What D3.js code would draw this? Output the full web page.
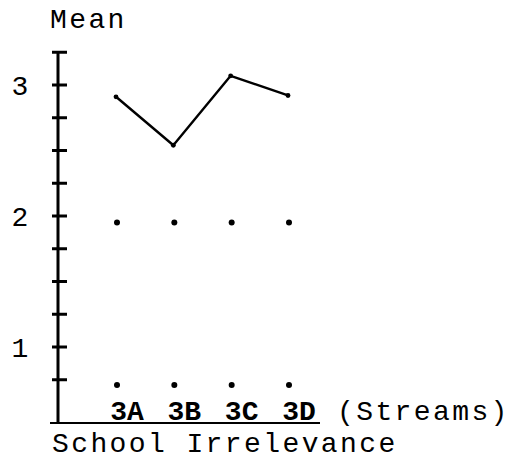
<!DOCTYPE html>
<meta charset="utf-8">
<style>
  body { margin: 0; background: #fff; }
  text {
    font-family: "Liberation Mono", "Courier New", monospace;
    font-size: 28px;
    letter-spacing: 2.4px;
    fill: #000;
  }
  .line {
    fill: none;
    stroke: black;
    stroke-width: 2.4px;
    stroke-linejoin: round;
    stroke-linecap: round;
  }
  .axis { stroke: black; fill: none; }
</style>
<body>
<div id="chart"></div>
<script src="https://d3js.org/d3.v7.min.js"></script>
<script>
  // streams on the x axis
  var streams = ["3A", "3B", "3C", "3D"];
  // mean School Irrelevance per stream
  var means = [2.91, 2.54, 3.07, 2.92];
  // typed dot rows under the line
  var dotsUpper = [1.95, 1.95, 1.95, 1.95];
  var dotsLower = [0.71, 0.71, 0.71, 0.71];
  // y axis ticks and labels
  var yTicks = [0.75, 1, 1.25, 1.5, 1.75, 2, 2.25, 2.5, 2.75, 3, 3.25];
  var yLabels = [1, 2, 3];

  var width = 515, height = 465;

  var svg = d3.select("#chart").append("svg")
    .attr("width", width)
    .attr("height", height);

  var x = d3.scalePoint().domain(streams).range([116, 288]);
  var y = d3.scaleLinear().domain([1, 3]).range([347, 85]);

  var axisX = 58, yMin = 0.42, yMax = 3.25;

  // y axis line
  svg.append("line").attr("class", "axis")
    .attr("x1", axisX).attr("x2", axisX)
    .attr("y1", y(yMax)).attr("y2", y(yMin))
    .attr("stroke-width", 3);

  // ticks
  svg.selectAll(".tick").data(yTicks).enter().append("line")
    .attr("class", "axis")
    .attr("x1", axisX - 6).attr("x2", axisX + 9)
    .attr("y1", d => y(d)).attr("y2", d => y(d))
    .attr("stroke-width", 3);

  svg.selectAll(".ylab").data(yLabels).enter().append("text")
    .attr("x", 20).attr("y", d => y(d) + 10)
    .attr("text-anchor", "middle")
    .style("letter-spacing", "0px")
    .text(d => d);

  // x axis / underline
  svg.append("line").attr("class", "axis")
    .attr("x1", 50).attr("x2", 320)
    .attr("y1", y(yMin)).attr("y2", y(yMin))
    .attr("stroke-width", 2);

  // stream labels, bold
  svg.selectAll(".xlab").data(streams).enter().append("text")
    .attr("x", d => x(d) + 11)
    .attr("y", y(yMin) - 3)
    .attr("text-anchor", "middle")
    .style("font-weight", "bold")
    .style("letter-spacing", "0px")
    .text(d => d);

  svg.append("text")
    .attr("x", 337).attr("y", y(yMin) - 3)
    .text("(Streams)");

  svg.append("text")
    .attr("x", 52).attr("y", 452)
    .text("School Irrelevance");

  svg.append("text")
    .attr("x", 50).attr("y", 28)
    .text("Mean");

  // mean line
  var line = d3.line()
    .x((d, i) => x(streams[i]))
    .y(d => y(d));

  svg.append("path")
    .datum(means)
    .attr("class", "line")
    .attr("d", line);

  svg.selectAll(".pt").data(means).enter().append("circle")
    .attr("cx", (d, i) => x(streams[i]))
    .attr("cy", d => y(d))
    .attr("r", 2.4);

  // dot rows
  [dotsUpper, dotsLower].forEach(function (row) {
    svg.append("g").selectAll("circle").data(row).enter().append("circle")
      .attr("cx", (d, i) => x(streams[i]) + 1)
      .attr("cy", d => y(d))
      .attr("r", 3);
  });
</script>
</body>
